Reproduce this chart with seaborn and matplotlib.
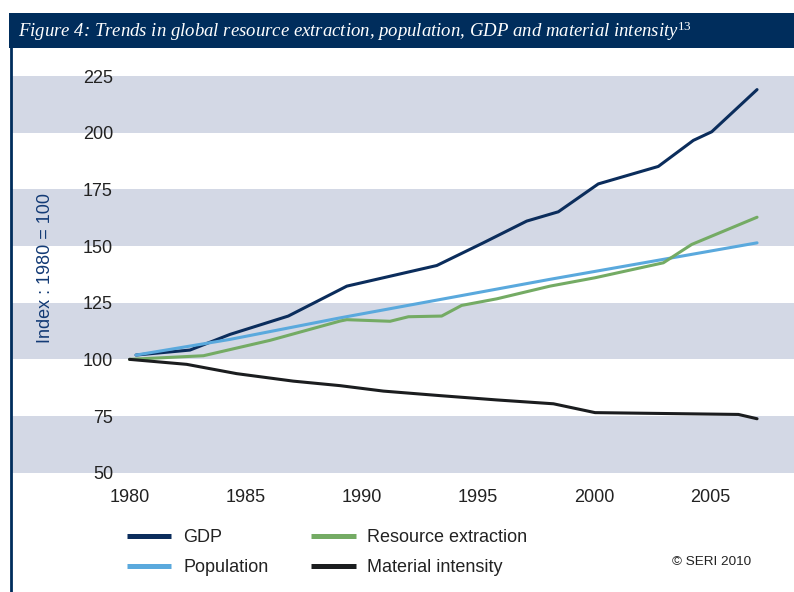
import pandas as pd
import seaborn as sns
import matplotlib.pyplot as plt
from matplotlib.patches import Rectangle
from matplotlib.lines import Line2D

# Values (index, 1980 = 100)
gdp_years = [1980.28, 1982.60, 1984.32, 1986.83, 1989.35, 1993.22, 1995.22, 1997.09,
             1998.45, 2000.17, 2002.75, 2004.26, 2005.05, 2007.0]
gdp_values = [101.9, 104.1, 111.0, 119.1, 132.3, 141.4, 151.4, 161.0,
              165.1, 177.4, 185.1, 196.6, 200.4, 219.0]

pop_years = [1980.28, 1984.32, 1989.06, 1998.09, 2007.0]
pop_values = [101.9, 108.8, 118.3, 135.3, 151.4]

res_years = [1980.0, 1983.18, 1986.05, 1989.06, 1989.35, 1991.21, 1992.0, 1993.43,
             1994.29, 1995.80, 1998.09, 2000.03, 2002.97, 2004.19, 2007.0]
res_values = [100.0, 101.6, 108.4, 116.9, 117.5, 116.8, 118.8, 119.1,
              123.8, 126.7, 132.3, 136.0, 142.6, 150.7, 162.7]

mat_years = [1980.0, 1982.46, 1984.61, 1987.04, 1989.06, 1990.92, 1993.36, 1995.80,
             1998.24, 2000.03, 2006.2, 2007.0]
mat_values = [100.0, 97.8, 93.7, 90.4, 88.4, 86.0, 84.0, 82.1,
              80.4, 76.5, 75.7, 73.8]

series_names = ["GDP", "Population", "Resource extraction", "Material intensity"]
series_colors = ["#0b2d5c", "#5aa9dd", "#74ab64", "#1b1d1f"]
x_ticks = [1980, 1985, 1990, 1995, 2000, 2005]
y_ticks = [50, 75, 100, 125, 150, 175, 200, 225]

title = ("Figure 4: Trends in global resource extraction, population, GDP and "
         "material intensity$^{\\mathit{13}}$")

frames = []
for name, xs, ys in zip(series_names,
                        [gdp_years, pop_years, res_years, mat_years],
                        [gdp_values, pop_values, res_values, mat_values]):
    frames.append(pd.DataFrame({"year": xs, "index": ys, "series": name}))
df = pd.concat(frames, ignore_index=True)

sns.set_style("white")
plt.rcParams['font.family'] = ['Liberation Sans', 'DejaVu Sans']
plt.rcParams['mathtext.fontset'] = 'custom'
plt.rcParams['mathtext.rm'] = 'Liberation Serif'
plt.rcParams['mathtext.it'] = 'Liberation Serif:italic'

navy = "#002d5c"
fig = plt.figure(figsize=(7.94, 5.92), dpi=100)
ax = fig.add_axes([11 / 794, 119.3 / 592, 783 / 794, 396.7 / 592])

# shaded bands
for lo in [50, 100, 150, 200]:
    ax.axhspan(lo, lo + 25, color="#d3d8e5", lw=0, zorder=0)

sns.lineplot(data=df, x="year", y="index", hue="series", hue_order=series_names,
             palette=series_colors, estimator=None, sort=False, linewidth=2.2, ax=ax)

ax.set_xlim(1974.90, 2008.59)
ax.set_ylim(50, 225)
ax.set_xticks(x_ticks)
ax.set_yticks(y_ticks)
ax.set_xlabel("")
ax.set_ylabel("")
for s in ax.spines.values():
    s.set_visible(False)
ax.tick_params(axis="x", direction="inout", length=8, width=1.4, color="#222222",
               pad=8, labelsize=13, labelcolor="#222222")
ax.tick_params(axis="y", length=0, pad=-73.4, labelsize=13, labelcolor="#222222")

fig.text(46 / 794, 1 - 268 / 592, "Index : 1980 = 100", rotation=90, ha="center",
         va="center", fontsize=13, color="#123a75")

# legend
handles, labels = ax.get_legend_handles_labels()
ax.get_legend().remove()
leg = fig.legend(handles, labels, ncol=2, loc="upper left",
                 bbox_to_anchor=(111 / 794, 1 - 513 / 592), frameon=False,
                 fontsize=13, handlelength=2.45, handletextpad=0.65,
                 columnspacing=2.37, labelspacing=0.7, labelcolor="#222222")
for ln in leg.get_lines():
    ln.set_linewidth(3.6)
    ln.set_solid_capstyle("butt")

fig.text(751 / 794, 1 - 562 / 592, "\u00a9 SERI 2010", ha="right", va="center",
         fontsize=9.7, color="#222222")

# title bar and frame
fig.add_artist(Rectangle((9 / 794, 1 - 48 / 592), 1, 35 / 592,
                         transform=fig.transFigure, color=navy, lw=0))
fig.add_artist(Line2D([10.5 / 794, 10.5 / 794], [0, 1 - 47 / 592],
                      transform=fig.transFigure, color=navy, lw=2))
fig.text(18 / 794, 1 - 31 / 592, title, ha="left", va="center", fontsize=13.5,
         color="white", family="Liberation Serif", style="italic")

fig.savefig("out.png", dpi=100)
